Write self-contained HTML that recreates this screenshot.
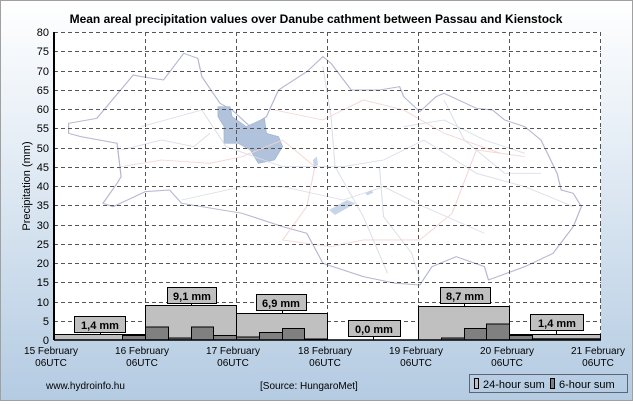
<!DOCTYPE html>
<html><head><meta charset="utf-8"><style>
html,body{margin:0;padding:0;}
body{width:633px;height:401px;overflow:hidden;font-family:"Liberation Sans",Arial,sans-serif;}
</style></head><body>
<svg width="633" height="401" viewBox="0 0 633 401" xmlns="http://www.w3.org/2000/svg" font-family="Liberation Sans, Arial, sans-serif">
<defs>
<linearGradient id="bg" x1="0" y1="0" x2="0" y2="1">
<stop offset="0" stop-color="#ffffff"/>
<stop offset="0.35" stop-color="#e6eef6"/>
<stop offset="1" stop-color="#b4cbe2"/>
</linearGradient>
</defs>
<rect x="0.5" y="0.5" width="632" height="400" fill="url(#bg)" stroke="#a0a0a0"/>
<text x="316" y="23" font-size="12" font-weight="bold" text-anchor="middle" fill="#000">Mean areal precipitation values over Danube cathment between Passau and Kienstock</text>
<rect x="54" y="32" width="547" height="308" fill="#fff"/>
<!-- map -->
<g transform="scale(0.4037,0.3333)" fill="none" stroke-width="3">
<polygon stroke="#b4b6d0" fill="#fff" points="170,370 240,355 330,225 350,230 405,240 455,160 490,175 500,230 545,310 575,330 620,380 660,350 690,270 760,215 800,170 820,190 870,270 940,270 990,260 1000,290 1040,335 1080,290 1100,280 1180,325 1220,330 1250,360 1300,380 1340,420 1380,520 1390,570 1420,580 1440,620 1420,680 1370,760 1300,800 1210,840 1200,800 1130,770 1070,800 1040,855 980,850 900,830 800,790 760,700 700,680 600,640 450,610 420,570 360,575 280,620 255,610 290,550 300,530 290,430 200,410 170,400"/>
<polygon fill="#b0c2dc" stroke="#a4b6d0" stroke-width="2" points="540,320 570,320 575,350 610,380 655,355 660,400 690,410 700,440 680,480 640,490 620,450 590,430 555,430 555,380 540,350"/>
<polyline stroke="#f4d4d4" stroke-width="2.5" points="300,500 400,480 520,490 600,470 700,420 780,500 760,620 700,720 820,740 900,720 1040,720 1120,640 1180,450 1300,470"/>
<polyline stroke="#f4d4d4" stroke-width="2.5" points="680,330 800,360 900,300 1000,330 1100,400 1240,460"/>
<polyline stroke="#d8dee8" stroke-width="2.5" points="350,380 500,330 560,440 700,500 850,500 950,480 1050,420 1180,520 1300,560 1420,620"/>
<polyline stroke="#d8dee8" stroke-width="2.5" points="450,600 600,560 700,560 850,600 950,560 1050,620 1200,700"/>
<polyline stroke="#d8dee8" stroke-width="2.5" points="800,200 820,350 830,500 900,650 960,820"/>
<polyline stroke="#d8dee8" stroke-width="2.5" points="940,500 950,650 1020,760 1040,840"/>
<polyline stroke="#d8dee8" stroke-width="2.5" points="1100,300 1150,420 1250,520 1340,520"/>
<polyline stroke="#d8dee8" stroke-width="2.5" points="300,450 400,420 480,440 520,400"/>
<polyline stroke="#d8dee8" stroke-width="2.5" points="1000,380 1100,360 1200,420 1300,460"/>
<polygon fill="#c8d4e8" points="815,630 860,600 880,610 830,645"/>
<polygon fill="#c8d4e8" points="905,580 920,570 925,578 910,586"/>
<polygon fill="#c8d4e8" points="775,480 785,470 788,495 778,500"/>
</g>
<!-- grid -->
<g stroke="#555" stroke-dasharray="4,3" stroke-width="1">
<line x1="54" x2="601" y1="32.5" y2="32.5"/>
<line x1="54" x2="601" y1="51.5" y2="51.5"/>
<line x1="54" x2="601" y1="71.5" y2="71.5"/>
<line x1="54" x2="601" y1="90.5" y2="90.5"/>
<line x1="54" x2="601" y1="109.5" y2="109.5"/>
<line x1="54" x2="601" y1="128.5" y2="128.5"/>
<line x1="54" x2="601" y1="148.5" y2="148.5"/>
<line x1="54" x2="601" y1="167.5" y2="167.5"/>
<line x1="54" x2="601" y1="186.5" y2="186.5"/>
<line x1="54" x2="601" y1="205.5" y2="205.5"/>
<line x1="54" x2="601" y1="225.5" y2="225.5"/>
<line x1="54" x2="601" y1="244.5" y2="244.5"/>
<line x1="54" x2="601" y1="263.5" y2="263.5"/>
<line x1="54" x2="601" y1="282.5" y2="282.5"/>
<line x1="54" x2="601" y1="302.5" y2="302.5"/>
<line x1="54" x2="601" y1="321.5" y2="321.5"/>
<line x1="145.5" x2="145.5" y1="32" y2="340"/>
<line x1="236.5" x2="236.5" y1="32" y2="340"/>
<line x1="327.5" x2="327.5" y1="32" y2="340"/>
<line x1="418.5" x2="418.5" y1="32" y2="340"/>
<line x1="509.5" x2="509.5" y1="32" y2="340"/>
<line x1="600.5" x2="600.5" y1="32" y2="340"/>
</g>
<!-- bars -->
<g stroke="#000" stroke-width="1">
<rect x="54.5" y="334.5" width="91" height="5.5" fill="#c0c0c0"/>
<rect x="145.5" y="305.5" width="91" height="34.5" fill="#c0c0c0"/>
<rect x="236.5" y="313.5" width="91" height="26.5" fill="#c0c0c0"/>
<rect x="418.5" y="306.5" width="91" height="33.5" fill="#c0c0c0"/>
<rect x="509.5" y="334.5" width="91" height="5.5" fill="#c0c0c0"/>
<g fill="#808080">
<rect x="122.5" y="335.5" width="23" height="4.5"/>
<rect x="145.5" y="327" width="23" height="13"/>
<rect x="168.5" y="338" width="23" height="2"/>
<rect x="191.5" y="327" width="22" height="13"/>
<rect x="213.5" y="335.5" width="23" height="4.5"/>
<rect x="236.5" y="337" width="23" height="3"/>
<rect x="259.5" y="332.5" width="23" height="7.5"/>
<rect x="282.5" y="328.5" width="22" height="11.5"/>
<rect x="304.5" y="339" width="23" height="1"/>
<rect x="441.5" y="338" width="23" height="2"/>
<rect x="464.5" y="328.5" width="22" height="11.5"/>
<rect x="486.5" y="324" width="23" height="16"/>
<rect x="509.5" y="335.5" width="23" height="4.5"/>
<rect x="532.5" y="338.8" width="68" height="1.2"/>
</g>
</g>
<!-- labels -->
<g font-size="11" font-weight="bold" text-anchor="middle">
<g stroke="#000" fill="#c0c0c0"><rect x="74.5" y="316.5" width="51" height="16"/><rect x="167.5" y="287.5" width="49" height="16"/><rect x="256.5" y="294.5" width="50" height="16"/><rect x="348.5" y="320.5" width="52" height="16"/><rect x="440.5" y="287.5" width="50" height="16"/><rect x="530.5" y="314.5" width="53" height="16"/></g>
<g stroke="#000"><line x1="100.5" y1="332" x2="100.5" y2="334"/><line x1="191.5" y1="303" x2="191.5" y2="305"/><line x1="282.5" y1="310" x2="282.5" y2="313"/><line x1="373.5" y1="336" x2="373.5" y2="340"/><line x1="464.5" y1="303" x2="464.5" y2="306"/><line x1="556.5" y1="330" x2="556.5" y2="334"/></g>
<text x="100" y="329">1,4 mm</text><text x="192" y="300">9,1 mm</text><text x="281" y="307">6,9 mm</text><text x="374" y="333">0,0 mm</text><text x="465" y="300">8,7 mm</text><text x="557" y="327">1,4 mm</text>
</g>
<!-- axes -->
<line x1="54" y1="32" x2="54" y2="340" stroke="#000" stroke-width="2"/>
<line x1="54" y1="340" x2="601" y2="340" stroke="#000" stroke-width="1.5"/>
<g font-size="11" text-anchor="end" fill="#000">
<text x="49" y="36">80</text><text x="49" y="55">75</text><text x="49" y="75">70</text><text x="49" y="94">65</text><text x="49" y="113">60</text><text x="49" y="132">55</text><text x="49" y="152">50</text><text x="49" y="171">45</text><text x="49" y="190">40</text><text x="49" y="209">35</text><text x="49" y="229">30</text><text x="49" y="248">25</text><text x="49" y="267">20</text><text x="49" y="286">15</text><text x="49" y="306">10</text><text x="49" y="325">5</text><text x="49" y="344">0</text>
</g>
<text transform="translate(30,186) rotate(-90)" font-size="11" text-anchor="middle">Precipitation (mm)</text>
<g font-size="10" text-anchor="middle" fill="#000">
<text x="51" y="354">15 February</text><text x="51" y="366">06UTC</text>
<text x="142" y="354">16 February</text><text x="142" y="366">06UTC</text>
<text x="233" y="354">17 February</text><text x="233" y="366">06UTC</text>
<text x="325" y="354">18 February</text><text x="325" y="366">06UTC</text>
<text x="416" y="354">19 February</text><text x="416" y="366">06UTC</text>
<text x="507" y="354">20 February</text><text x="507" y="366">06UTC</text>
<text x="598" y="354">21 February</text><text x="598" y="366">06UTC</text>
</g>
<text x="46" y="389" font-size="10">www.hydroinfo.hu</text>
<text x="260" y="389" font-size="10">[Source: HungaroMet]</text>
<rect x="469.5" y="374.5" width="158" height="18" fill="none" stroke="#000" stroke-dasharray="1,1"/>
<rect x="474.5" y="378.5" width="4" height="10" fill="#c0c0c0" stroke="#000"/>
<text x="483" y="388" font-size="11">24-hour sum</text>
<rect x="550.5" y="378.5" width="4" height="10" fill="#808080" stroke="#000"/>
<text x="559" y="388" font-size="11">6-hour sum</text>
</svg>
</body></html>
